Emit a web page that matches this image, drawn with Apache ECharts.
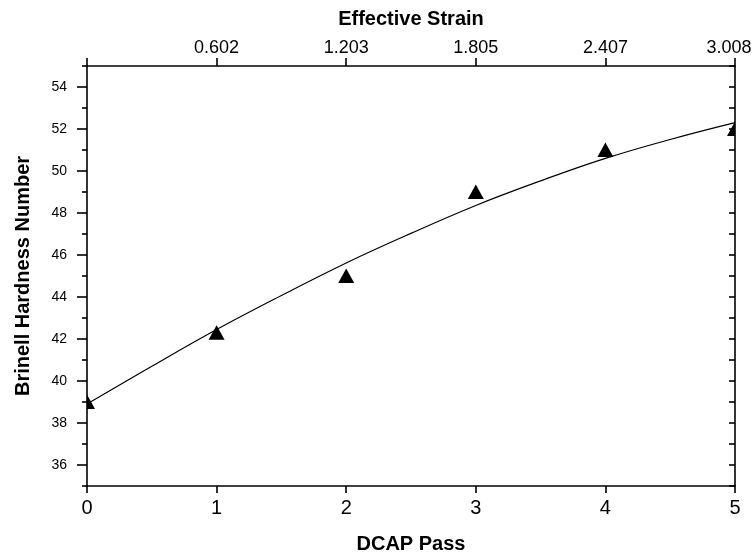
<!DOCTYPE html>
<html>
<head>
<meta charset="utf-8">
<script src="https://cdn.jsdelivr.net/npm/echarts@6/dist/echarts.min.js"></script>
<style>
html,body{margin:0;padding:0;background:#fff;}
#chart{width:752px;height:553px;}
</style>
</head>
<body>
<div id="chart"></div>
<script>
// Measured data points (DCAP pass vs. Brinell hardness)
var passValues = [0, 1, 2, 3, 4, 5];
var hardnessValues = [39.0, 42.3, 45.0, 49.0, 51.0, 52.0];

// Fitted curve
var fitPass = [0, 0.5, 1, 1.5, 2, 2.5, 3, 3.5, 4, 4.5, 5];
var fitHardness = [38.9, 40.7, 42.45, 44.07, 45.62, 47.03, 48.36, 49.53, 50.6, 51.5, 52.3];

// Tick values / labels
var passTicks = [0, 1, 2, 3, 4, 5];
var strainTicks = [1, 2, 3, 4, 5];
var strainLabels = ['0.602', '1.203', '1.805', '2.407', '3.008'];
var yMajorTicks = [36, 38, 40, 42, 44, 46, 48, 50, 52, 54];
var yMinorTicks = [35, 37, 39, 41, 43, 45, 47, 49, 51, 53, 55];

var FONT = 'Liberation Sans, Arial, sans-serif';
var axisLine = {show: true, lineStyle: {color: '#000', width: 1.6}};

var chart = echarts.init(document.getElementById('chart'));
chart.setOption({
  animation: false,
  backgroundColor: '#fff',
  grid: {left: 87, right: 17, top: 66, bottom: 67, containLabel: false, outerBoundsMode: 'none'},
  xAxis: [
    {
      type: 'value', position: 'bottom', min: 0, max: 5, interval: 1,
      name: 'DCAP Pass', nameLocation: 'middle', nameGap: 48, nameMoveOverlap: false,
      nameTextStyle: {fontFamily: FONT, fontWeight: 'bold', fontSize: 20, color: '#000'},
      axisLine: axisLine,
      axisTick: {show: true, inside: false, length: 7, customValues: passTicks, lineStyle: {color: '#000', width: 1.6}},
      axisLabel: {show: true, margin: 12, fontFamily: FONT, fontSize: 20, color: '#000', customValues: passTicks},
      splitLine: {show: false}
    },
    {
      type: 'value', position: 'top', min: 0, max: 5, interval: 1,
      name: 'Effective Strain', nameLocation: 'middle', nameGap: 37, nameMoveOverlap: false,
      nameTextStyle: {fontFamily: FONT, fontWeight: 'bold', fontSize: 20, color: '#000'},
      axisLine: axisLine,
      axisTick: {show: true, inside: false, length: 8, customValues: passTicks, lineStyle: {color: '#000', width: 1.6}},
      axisLabel: {
        show: true, margin: 9, fontFamily: FONT, fontSize: 18, color: '#000',
        customValues: strainTicks,
        formatter: function (v) {
          var i = strainTicks.indexOf(v);
          if (i < 0) return '';
          return i === strainTicks.length - 1 ? '{last|' + strainLabels[i] + '}' : strainLabels[i];
        },
        rich: {last: {fontFamily: FONT, fontSize: 18, color: '#000', padding: [0, 12, 0, 0]}}
      },
      splitLine: {show: false}
    }
  ],
  yAxis: [
    {
      type: 'value', position: 'left', min: 35, max: 55, interval: 1,
      name: 'Brinell Hardness Number', nameLocation: 'middle', nameGap: 54, nameMoveOverlap: false,
      nameTextStyle: {fontFamily: FONT, fontWeight: 'bold', fontSize: 20, color: '#000'},
      axisLine: axisLine,
      axisTick: {show: true, inside: false, length: 10, customValues: yMajorTicks, lineStyle: {color: '#000', width: 1.6}},
      axisLabel: {show: true, margin: 20, fontFamily: FONT, fontSize: 14, color: '#000', customValues: yMajorTicks},
      splitLine: {show: false}
    },
    {
      type: 'value', position: 'left', offset: 0, min: 35, max: 55, interval: 1,
      axisLine: {show: false},
      axisTick: {show: true, inside: false, length: 5, customValues: yMinorTicks, lineStyle: {color: '#000', width: 1.6}},
      axisLabel: {show: false},
      splitLine: {show: false}
    },
    {
      type: 'value', position: 'right', min: 35, max: 55, interval: 1,
      axisLine: axisLine,
      axisTick: {show: true, inside: true, length: 6, lineStyle: {color: '#000', width: 1.6}},
      axisLabel: {show: false},
      splitLine: {show: false}
    }
  ],
  series: [
    {
      type: 'line', name: 'fit', xAxisIndex: 0, yAxisIndex: 0,
      data: fitPass.map(function (x, i) { return [x, fitHardness[i]]; }),
      smooth: 0.4, showSymbol: false, symbol: 'none',
      lineStyle: {color: '#000', width: 1.2}, clip: true, z: 3
    },
    {
      type: 'custom', name: 'measured', xAxisIndex: 0, yAxisIndex: 0, clip: true, z: 4,
      data: passValues.map(function (x, i) { return [x, hardnessValues[i]]; }),
      renderItem: function (params, api) {
        var p = api.coord([api.value(0), api.value(1)]);
        return {
          type: 'polygon',
          shape: {points: [[p[0], p[1] - 7.5], [p[0] - 8, p[1] + 7], [p[0] + 8, p[1] + 7]]},
          style: {fill: '#000', stroke: null}
        };
      }
    }
  ]
});
</script>
</body>
</html>
